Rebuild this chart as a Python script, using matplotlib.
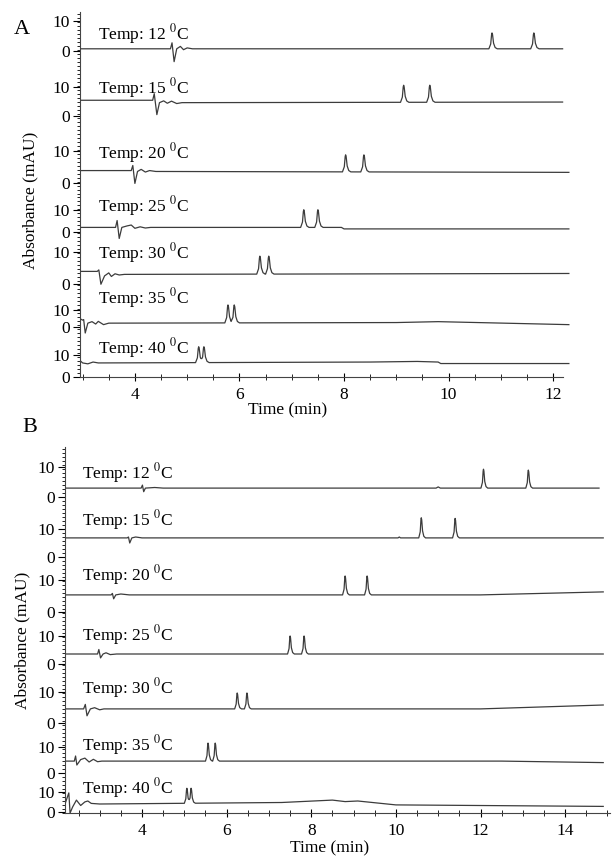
import numpy as np
import matplotlib
matplotlib.use('Agg')
import matplotlib.pyplot as plt
from matplotlib.ticker import MultipleLocator

plt.rcParams['font.family'] = ['Liberation Serif', 'DejaVu Serif']
plt.rcParams['mathtext.fontset'] = 'stix'

temps = [12, 15, 20, 25, 30, 35, 40]

# retention times of the two peaks (min) and their heights (mAU)
A_peaks = [(10.83, 11.63), (9.14, 9.64), (8.03, 8.38), (7.23, 7.50),
           (6.39, 6.56), (5.78, 5.90), (5.22, 5.32)]
A_heights = [(5.3, 5.3), (5.7, 5.7), (5.7, 5.7), (5.9, 5.9),
             (6.0, 6.0), (6.0, 6.0), (5.3, 5.3)]
B_peaks = [(12.07, 13.13), (10.60, 11.40), (8.80, 9.32), (7.50, 7.83),
           (6.25, 6.48), (5.56, 5.73), (5.06, 5.16)]
B_heights = [(6.3, 6.0), (6.7, 6.5), (6.3, 6.3), (6.0, 6.0),
             (5.3, 5.3), (6.0, 6.0), (5.0, 5.0)]

# baseline / injection disturbance: (time, deviation)
A_noise = [
    [(2.95, 0), (4.68, 0), (4.71, 2.0), (4.75, -4.3), (4.80, 0), (4.87, 0.8), (4.93, -0.3), (5.0, 0.3), (5.1, 0), (12.18, 0)],
    [(2.95, 0.8), (4.34, 0.8), (4.37, 3.0), (4.42, -4.0), (4.47, 0), (4.55, 0.6), (4.62, -0.2), (4.7, 0.5), (4.8, -0.3), (4.9, 0), (12.18, 0.2)],
    [(2.95, 0.3), (3.93, 0.3), (3.96, 2.0), (4.00, -4.0), (4.05, 0), (4.12, 0.7), (4.2, -0.2), (4.28, 0.3), (4.4, 0), (12.3, -0.3)],
    [(2.95, 0), (3.63, 0), (3.66, 2.3), (3.70, -3.7), (3.75, 0), (3.85, 0.5), (3.93, 0.8), (4.0, -0.3), (4.1, 0.2), (4.2, -0.2), (4.3, 0), (7.95, 0), (8.0, -0.5), (12.3, -0.5)],
    [(2.95, 1.0), (3.28, 1.0), (3.31, 1.5), (3.35, -3.3), (3.42, -0.5), (3.5, 0.5), (3.55, -0.7), (3.62, 0.2), (3.7, -0.2), (3.8, 0), (12.3, 0.3)],
    [(2.95, 1.5), (3.0, 1.0), (3.02, 1.2), (3.05, -3.3), (3.1, 0), (3.18, 0.5), (3.25, -0.3), (3.3, 0.6), (3.4, -0.5), (3.5, 0), (9.0, 0.2), (9.8, 0.5), (12.3, -0.5)],
    [(2.95, 0.8), (3.0, 0), (3.1, -0.3), (3.2, 0.3), (3.3, 0), (8.5, 0.3), (9.4, 0.5), (9.8, 0.3), (9.85, -0.2), (12.3, -0.2)],
]
B_noise = [
    [(2.18, 0), (3.98, 0), (4.01, 1.0), (4.04, -1.2), (4.08, 0), (4.3, 0.2), (4.5, 0), (10.95, 0), (11.0, 0.4), (11.05, 0), (14.8, 0)],
    [(2.18, 0), (3.65, 0), (3.68, 0.3), (3.71, -1.7), (3.76, 0), (3.85, 0.3), (4.0, 0), (10.05, 0), (10.08, 0.3), (10.11, 0), (14.9, 0)],
    [(2.18, 0), (3.27, 0), (3.30, 0.5), (3.33, -1.3), (3.38, 0), (3.5, 0.3), (3.7, 0), (12.0, 0), (14.9, 1.0)],
    [(2.18, 0), (2.95, 0), (2.98, 1.5), (3.02, -1.3), (3.08, 0), (3.15, 0.4), (3.25, -0.2), (3.4, 0), (14.9, 0)],
    [(2.18, 0), (2.62, 0), (2.66, 1.5), (2.70, -2.3), (2.78, 0), (2.88, 0.4), (3.0, -0.3), (3.1, 0), (12.0, 0), (14.9, 1.3)],
    [(2.18, 0), (2.40, 0), (2.43, 1.7), (2.46, -1.3), (2.55, 0.5), (2.65, 1.0), (2.75, -0.3), (2.85, 0.6), (2.95, -0.2), (3.05, 0), (12.5, 0), (14.9, -0.5)],
    [(2.18, 0), (2.27, 3.7), (2.30, -3.0), (2.36, -1.0), (2.45, 1.3), (2.55, -0.5), (2.65, 0.7), (2.72, 1.0), (2.8, 0.2), (3.0, 0), (7.3, 0.5), (8.5, 1.3), (8.8, 0.8), (9.1, 1.0), (10.0, -0.3), (14.9, -0.8)],
]

# peak profile (time offset from apex, fraction of height)
peak_dt = [-0.06, -0.025, -0.008, 0.0, 0.01, 0.03, 0.06, 0.10]
peak_frac = [0.0, 0.3, 0.9, 1.0, 0.9, 0.35, 0.08, 0.0]

# stacking layout (axis units, 1 unit ~ 1 mAU)
A_offset = [109.7, 91.7, 68.7, 50.0, 34.3, 18.0, 4.7]
A_ten = [119.0, 97.0, 75.7, 55.7, 41.7, 22.3, 7.3]
A_zero = [109.0, 87.3, 65.0, 48.3, 31.0, 16.7, 0.0]
A_lab = [5.0, 5.0, 6.3, 7.0, 7.0, 8.3, 5.0]
B_offset = [108.3, 91.7, 72.7, 53.0, 34.7, 17.3, 3.0]
B_ten = [115.3, 94.7, 77.7, 59.0, 40.3, 22.0, 7.0]
B_zero = [105.3, 85.3, 67.0, 49.7, 30.0, 13.3, 0.3]
B_lab = [5.0, 6.0, 6.6, 6.3, 7.0, 5.3, 5.3]


def trace(noise, peaks, heights):
    nt = [p[0] for p in noise]
    ny = [p[1] for p in noise]
    t = list(nt)
    for pk in peaks:
        t += [pk + d for d in peak_dt]
    t = np.unique(np.array(t))
    y = np.interp(t, nt, ny)
    for pk, h in zip(peaks, heights):
        y += h * np.interp(t, np.array(peak_dt) + pk, peak_frac, left=0, right=0)
    return t, y


def panel(ax, noise, peaks, heights, offset, ten, zero, lab, xlim, xend, labx):
    for i, temp in enumerate(temps):
        t, y = trace(noise[i], peaks[i], heights[i])
        ax.plot(t, y + offset[i], color='#3c3c3c', linewidth=0.9)
        ax.text(labx, offset[i] + lab[i], r'Temp: %d $^0$C' % temp,
                fontsize=12.5, va='center', ha='left')
    ax.set_xlim(*xlim)
    ax.set_ylim(0, 122)
    for s in ['top', 'right']:
        ax.spines[s].set_visible(False)
    ax.spines['bottom'].set_bounds(xlim[0], xend)
    ax.set_xticks(np.arange(4, xend + 0.01, 2))
    ax.xaxis.set_minor_locator(MultipleLocator(0.5))
    ax.tick_params(axis='x', which='major', direction='inout', length=6, labelsize=12.5, pad=4)
    ax.tick_params(axis='x', which='minor', direction='inout', length=4)
    yt = []
    yl = []
    for a, b in zip(ten, zero):
        yt += [a, b]
        yl += ['10', '0']
    ax.set_yticks(yt)
    ax.set_yticklabels(yl)
    ax.yaxis.set_minor_locator(MultipleLocator(4 / 3))
    ax.tick_params(axis='y', which='major', direction='out', length=5, labelsize=12.5, pad=2)
    ax.tick_params(axis='y', which='minor', direction='out', length=2.5)
    for s in ax.spines.values():
        s.set_linewidth(0.8)
        s.set_color('#444444')


fig = plt.figure(figsize=(6.12, 8.56), dpi=100)

axA = fig.add_axes([80 / 612, 1 - 377 / 856, (572 - 80) / 612, 365 / 856])
panel(axA, A_noise, A_peaks, A_heights, A_offset, A_ten, A_zero, A_lab,
      (2.95, 12.36), 12.18, 3.29)
axB = fig.add_axes([65 / 612, 1 - 813 / 856, (610 - 65) / 612, 366 / 856])
panel(axB, B_noise, B_peaks, B_heights, B_offset, B_ten, B_zero, B_lab,
      (2.18, 15.06), 15.06, 2.58)

fig.text(288 / 612, 1 - 410 / 856, 'Time (min)', ha='center', va='center', fontsize=12.5)
fig.text(330 / 612, 1 - 848 / 856, 'Time (min)', ha='center', va='center', fontsize=12.5)
fig.text(30 / 612, 1 - 200 / 856, 'Absorbance (mAU)', rotation=90, ha='center', va='center', fontsize=12.5)
fig.text(22 / 612, 1 - 640 / 856, 'Absorbance (mAU)', rotation=90, ha='center', va='center', fontsize=12.5)
fig.text(22 / 612, 1 - 30 / 856, 'A', ha='center', va='center', fontsize=16)
fig.text(30 / 612, 1 - 428 / 856, 'B', ha='center', va='center', fontsize=16)

fig.savefig('out.png', dpi=100)
